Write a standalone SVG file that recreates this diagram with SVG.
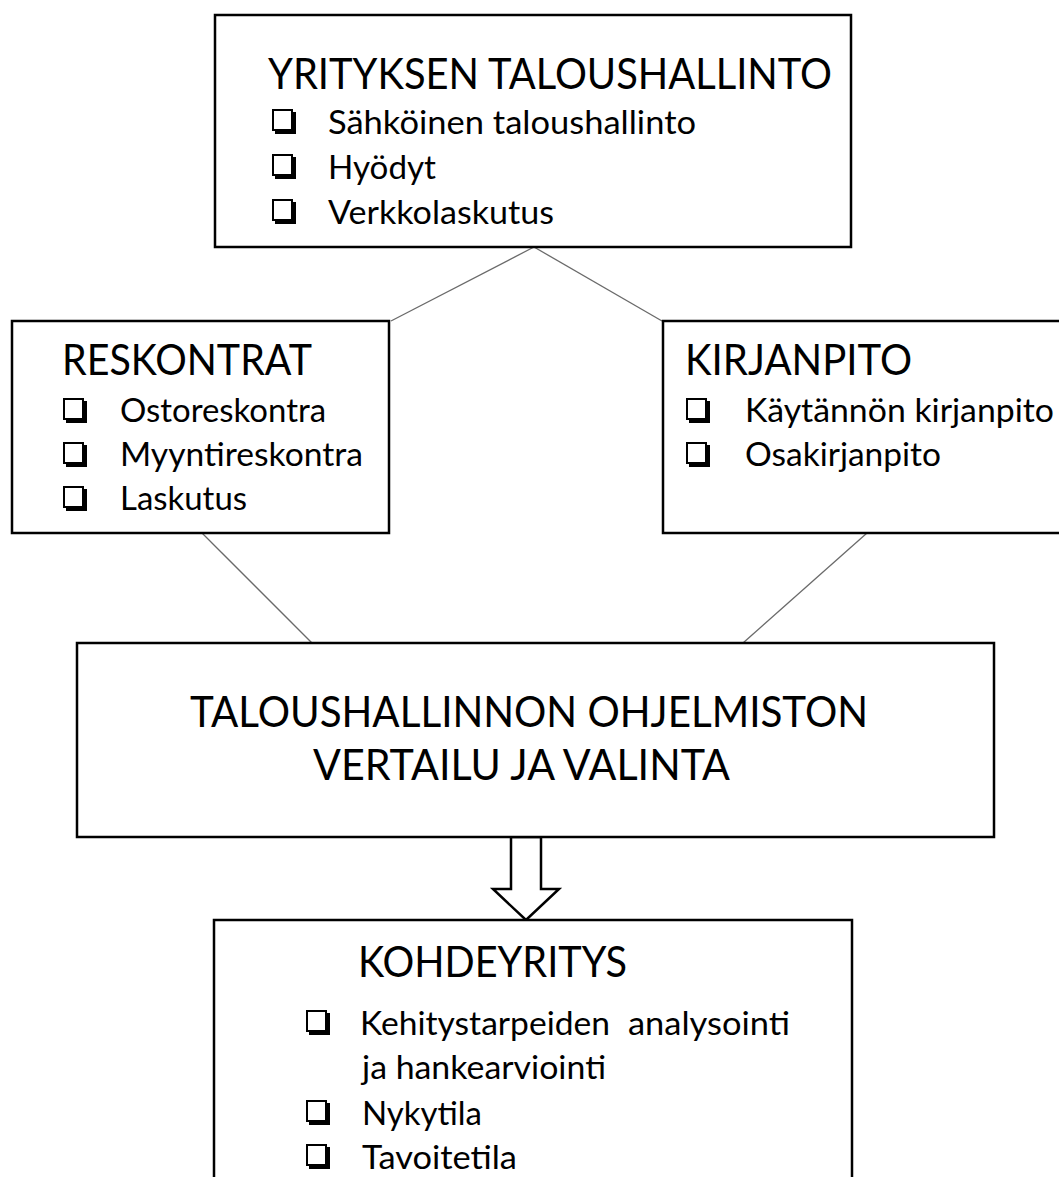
<svg xmlns="http://www.w3.org/2000/svg" xmlns:xlink="http://www.w3.org/1999/xlink" width="1059" height="1177" viewBox="0 0 1059 1177">
<style>
.box{fill:#fff;stroke:#000;stroke-width:2.5}
.conn{stroke:#6a6a6a;stroke-width:1.3;fill:none}
.t{font-family:Lato,"Open Sans","Liberation Sans",sans-serif;fill:#000}
.h{font-size:42.5px}
.i{font-size:32.5px}
</style>
<defs>
<g id="cb">
<rect x="1" y="1" width="19" height="20" fill="none" stroke="#000" stroke-width="2"/>
<path d="M3 21 H20 V3 H24 V25 H3 Z" fill="#000"/>
</g>
</defs>
<rect width="1059" height="1177" fill="#fff"/>
<g id="connectors">
<line class="conn" x1="534" y1="247" x2="391" y2="321"/>
<line class="conn" x1="534" y1="247" x2="662" y2="321"/>
<line class="conn" x1="202" y1="533" x2="312" y2="643"/>
<line class="conn" x1="867" y1="533" x2="743" y2="643"/>
<polygon class="box" points="511,837 541,837 541,889 559,889 526,920 493,889 511,889"/>
</g>
<g id="node-yrityksen">
<rect class="box" x="215" y="15" width="636" height="232"/>
<text class="t h" x="268" y="89" textLength="564" lengthAdjust="spacingAndGlyphs">YRITYKSEN TALOUSHALLINTO</text>
<use xlink:href="#cb" x="272" y="109"/>
<text class="t i" x="328" y="134" textLength="368" lengthAdjust="spacingAndGlyphs">Sähköinen taloushallinto</text>
<use xlink:href="#cb" x="272" y="154"/>
<text class="t i" x="328" y="179" textLength="108" lengthAdjust="spacingAndGlyphs">Hyödyt</text>
<use xlink:href="#cb" x="272" y="199"/>
<text class="t i" x="328" y="224" textLength="226" lengthAdjust="spacingAndGlyphs">Verkkolaskutus</text>
</g>
<g id="node-reskontrat">
<rect class="box" x="12" y="321" width="377" height="212"/>
<text class="t h" x="62" y="375" textLength="250" lengthAdjust="spacingAndGlyphs">RESKONTRAT</text>
<use xlink:href="#cb" x="63" y="398"/>
<text class="t i" x="120" y="422" textLength="206" lengthAdjust="spacingAndGlyphs">Ostoreskontra</text>
<use xlink:href="#cb" x="63" y="442"/>
<text class="t i" x="120" y="466" textLength="243" lengthAdjust="spacingAndGlyphs">Myyntireskontra</text>
<use xlink:href="#cb" x="63" y="486"/>
<text class="t i" x="120" y="510" textLength="127" lengthAdjust="spacingAndGlyphs">Laskutus</text>
</g>
<g id="node-kirjanpito">
<rect class="box" x="663" y="321" width="420" height="212"/>
<text class="t h" x="685" y="375" textLength="227" lengthAdjust="spacingAndGlyphs">KIRJANPITO</text>
<use xlink:href="#cb" x="686" y="398"/>
<text class="t i" x="745" y="422" textLength="309" lengthAdjust="spacingAndGlyphs">Käytännön kirjanpito</text>
<use xlink:href="#cb" x="686" y="442"/>
<text class="t i" x="745" y="466" textLength="196" lengthAdjust="spacingAndGlyphs">Osakirjanpito</text>
</g>
<g id="node-vertailu">
<rect class="box" x="77" y="643" width="917" height="194"/>
<text class="t h" x="190" y="727" textLength="678" lengthAdjust="spacingAndGlyphs">TALOUSHALLINNON OHJELMISTON</text>
<text class="t h" x="313" y="780" textLength="417" lengthAdjust="spacingAndGlyphs">VERTAILU JA VALINTA</text>
</g>
<g id="node-kohdeyritys">
<rect class="box" x="214" y="920" width="638" height="290"/>
<text class="t h" x="358" y="977" textLength="269" lengthAdjust="spacingAndGlyphs">KOHDEYRITYS</text>
<use xlink:href="#cb" x="306" y="1010"/>
<text class="t i" y="1035"><tspan x="360" textLength="250" lengthAdjust="spacingAndGlyphs">Kehitystarpeiden</tspan><tspan x="628" textLength="162" lengthAdjust="spacingAndGlyphs">analysointi</tspan></text>
<text class="t i" x="362" y="1079" textLength="244" lengthAdjust="spacingAndGlyphs">ja hankearviointi</text>
<use xlink:href="#cb" x="306" y="1100"/>
<text class="t i" x="362" y="1125" textLength="120" lengthAdjust="spacingAndGlyphs">Nykytila</text>
<use xlink:href="#cb" x="306" y="1144"/>
<text class="t i" x="362" y="1169" textLength="155" lengthAdjust="spacingAndGlyphs">Tavoitetila</text>
</g>
</svg>
